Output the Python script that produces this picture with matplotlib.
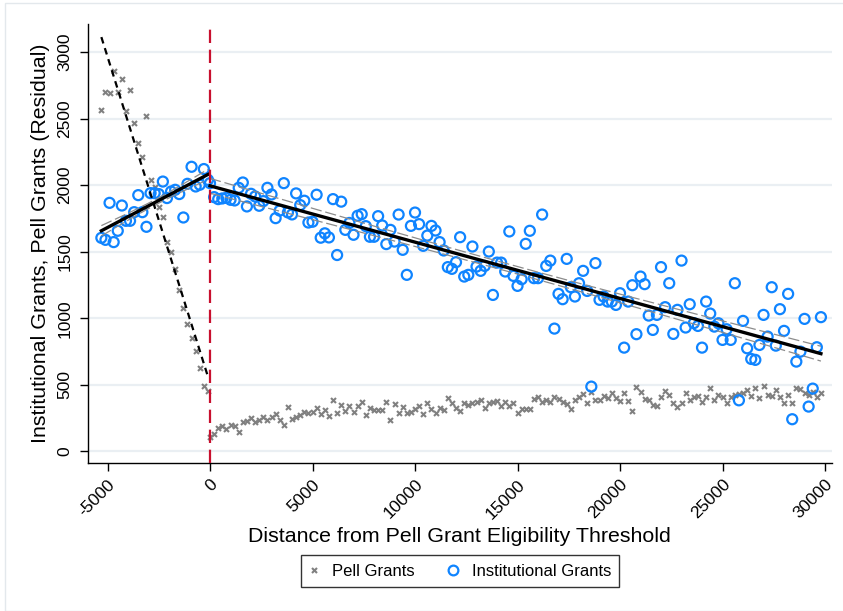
import numpy as np
import matplotlib.pyplot as plt
from matplotlib.lines import Line2D
from matplotlib.patches import Rectangle

plt.rcParams['font.family'] = ['Liberation Sans', 'DejaVu Sans']

# bin centres (distance from threshold)
bins_left = np.arange(-5300, 0, 200)
bins_right = np.arange(0, 30000, 200)

pell_left = [2567, 2701, 2694, 2860, 2701, 2797, 2554, 2715, 2464, 2316,
             2208, 2516, 2035, 1988, 1839, 1760, 1574, 1494, 1371, 1213,
             1080, 957, 850, 757, 629, 493, 453]

pell_right = [110, 130, 178, 188, 165, 195, 188, 147, 223, 230,
              248, 223, 236, 254, 238, 260, 283, 235, 198, 331,
              241, 258, 273, 294, 288, 298, 323, 283, 308, 262,
              384, 286, 348, 305, 338, 298, 338, 369, 273, 323,
              311, 311, 311, 373, 235, 356, 286, 331, 286, 298,
              316, 341, 278, 365, 316, 286, 323, 311, 398, 365,
              323, 303, 361, 346, 361, 368, 386, 323, 361, 373,
              381, 341, 373, 341, 365, 286, 316, 320, 320, 391,
              406, 373, 386, 373, 411, 391, 373, 356, 316, 386,
              406, 431, 366, 449, 386, 386, 416, 398, 436, 398,
              381, 441, 381, 303, 486, 449, 391, 386, 348, 341,
              406, 454, 423, 361, 331, 366, 441, 386, 411, 418,
              368, 411, 474, 384, 423, 411, 361, 406, 423, 428,
              436, 461, 416, 474, 398, 491, 423, 416, 461, 406,
              365, 423, 361, 478, 466, 441, 423, 448, 411, 441]

inst_left = [1604, 1589, 1867, 1572, 1657, 1847, 1732, 1732, 1797, 1925,
             1797, 1687, 1940, 1940, 1933, 2027, 1903, 1952, 1965, 1933,
             1757, 2010, 2138, 1990, 2003, 2121, 2040]

inst_right = [2015, 1910, 1895, 1900, 1905, 1890, 1885, 1980, 2020, 1840,
              1935, 1915, 1845, 1880, 1980, 1930, 1752, 1809, 2015, 1795,
              1780, 1938, 1850, 1883, 1719, 1725, 1928, 1605, 1638, 1607,
              1895, 1475, 1876, 1664, 1716, 1627, 1770, 1782, 1692, 1612,
              1612, 1767, 1697, 1557, 1664, 1576, 1779, 1514, 1326, 1694,
              1794, 1707, 1544, 1621, 1694, 1659, 1572, 1509, 1384, 1371,
              1421, 1609, 1313, 1326, 1539, 1388, 1356, 1393, 1501, 1175,
              1418, 1418, 1351, 1652, 1318, 1243, 1293, 1559, 1657, 1301,
              1301, 1779, 1393, 1433, 922, 1183, 1143, 1446, 1233, 1163,
              1263, 1356, 1205, 486, 1414, 1138, 1163, 1125, 1125, 1100,
              1188, 779, 1125, 1248, 880, 1313, 1256, 1020, 912, 1025,
              1384, 1083, 1263, 882, 1063, 1433, 930, 1105, 963, 942,
              779, 1125, 1035, 937, 962, 837, 917, 837, 1263, 383,
              980, 774, 694, 687, 799, 1025, 862, 1233, 794, 1068,
              905, 1183, 241, 674, 749, 995, 336, 471, 782, 1008]

xticks = [-5000, 0, 5000, 10000, 15000, 20000, 25000, 30000]
yticks = [0, 500, 1000, 1500, 2000, 2500, 3000]

BLUE = '#0f84ff'
GRAY = '#808080'
RED = '#c8102e'


def linfit_ci(x, y, t=1.98):
    x = np.asarray(x, float)
    y = np.asarray(y, float)
    slope, icpt = np.polyfit(x, y, 1)
    xs = np.linspace(x.min(), x.max(), 200)
    yhat = icpt + slope * xs
    resid = y - (icpt + slope * x)
    s = np.sqrt(np.sum(resid ** 2) / (len(x) - 2))
    se = s * np.sqrt(1 / len(x) + (xs - x.mean()) ** 2 / np.sum((x - x.mean()) ** 2))
    return xs, yhat, yhat - t * se, yhat + t * se


fig = plt.figure(figsize=(8.43, 6.11), dpi=100)
ax = fig.add_axes([87.5 / 843, 1 - 463 / 611, 744.5 / 843, 439 / 611])

ax.set_xlim(-5976, 30340)
ax.set_ylim(-88, 3211)

for yt in yticks:
    ax.axhline(yt, color='#eaeff3', lw=1.6, zorder=0)

# pell grants
ax.plot(bins_left, pell_left, ls='none', marker='x', ms=3.6, mew=1.5,
        color=GRAY, zorder=2)
ax.plot(bins_right, pell_right, ls='none', marker='x', ms=3.6, mew=1.5,
        color=GRAY, zorder=2)

# institutional grants
ax.scatter(bins_left, inst_left, s=52, facecolors='none', edgecolors=BLUE,
           linewidths=1.6, zorder=3)
ax.scatter(bins_right, inst_right, s=52, facecolors='none', edgecolors=BLUE,
           linewidths=1.6, zorder=3)

# linear fits with confidence bands (left side binned on few points)
for xb, yb, tval in [(bins_left, inst_left, 1.1), (bins_right, inst_right, 1.98)]:
    xs, yhat, lo, hi = linfit_ci(xb, yb, tval)
    ax.plot(xs, lo, color='#8c8c8c', lw=0.9, dashes=(9, 3), zorder=4)
    ax.plot(xs, hi, color='#8c8c8c', lw=0.9, dashes=(9, 3), zorder=4)
    ax.plot(xs, yhat, color='black', lw=2.4, zorder=5)

xs, yhat, lo, hi = linfit_ci(bins_left, pell_left)
ax.plot(xs, yhat, color='black', lw=1.6, dashes=(3, 2.2), zorder=5)

ax.axvline(0, color=RED, lw=1.6, dashes=(6, 3), zorder=6)

ax.set_xticks(xticks)
ax.set_yticks(yticks)
ax.set_xticklabels([str(v) for v in xticks], rotation=45, ha='right',
                   va='top', rotation_mode='anchor', fontsize=12.5)
ax.set_yticklabels([str(v) for v in yticks], rotation=90, va='center',
                   fontsize=12.5)
ax.tick_params(axis='both', direction='out', length=6, width=1, color='black')
ax.tick_params(axis='x', pad=4)
ax.tick_params(axis='y', pad=5)

ax.spines['top'].set_visible(False)
ax.spines['right'].set_visible(False)
ax.spines['left'].set_linewidth(1)
ax.spines['bottom'].set_linewidth(1)

ax.set_xlabel('Distance from Pell Grant Eligibility Threshold', fontsize=15.4,
              labelpad=4)
ax.set_ylabel('Institutional Grants, Pell Grants (Residual)', fontsize=15.4,
              labelpad=5)

handles = [
    Line2D([], [], ls='none', marker='x', ms=3.6, mew=1.5, color=GRAY),
    Line2D([], [], ls='none', marker='o', ms=7, mew=1.6, mfc='none', mec=BLUE),
]
leg = fig.legend(handles, ['Pell Grants', 'Institutional Grants'], ncol=2,
                 loc='center', bbox_to_anchor=(460 / 843, 1 - 571 / 611),
                 fontsize=12, frameon=True, fancybox=False, handlelength=0.6,
                 handletextpad=0.8, columnspacing=2.0, borderpad=0.5)
leg.get_frame().set_edgecolor('black')
leg.get_frame().set_linewidth(1)

fig.patches.append(Rectangle((5 / 843, 0), 1, 1 - 3 / 611, transform=fig.transFigure,
                             fill=False, ec='#e3e8ec', lw=1))

fig.savefig('out.png', dpi=100)
